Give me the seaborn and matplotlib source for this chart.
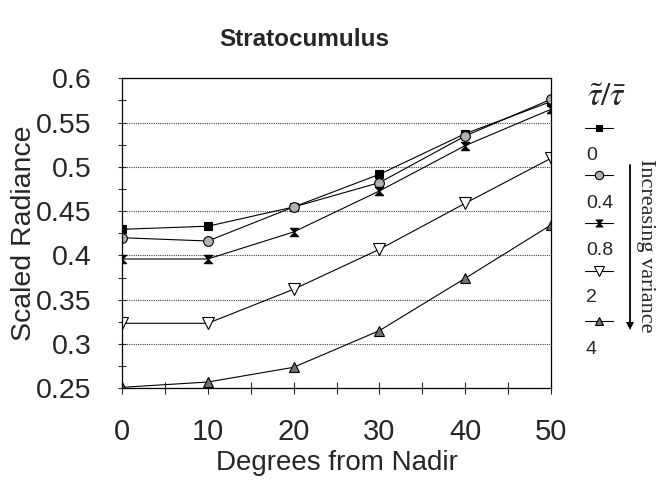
import matplotlib
matplotlib.use("Agg")
import matplotlib.pyplot as plt
from matplotlib.lines import Line2D
from matplotlib.path import Path
import numpy as np
import pandas as pd
import seaborn as sns

# ---- data ----
angles = [0, 10, 20, 30, 40, 50]
labels = ["0", "0.4", "0.8", "2", "4"]
s0 = [0.4295, 0.4330, 0.4547, 0.4916, 0.5375, 0.5737]
s04 = [0.4200, 0.4163, 0.4547, 0.4822, 0.5349, 0.5763]
s08 = [0.3960, 0.3960, 0.4265, 0.4728, 0.5240, 0.5650]
s2 = [0.3234, 0.3234, 0.3618, 0.4069, 0.4589, 0.5097]
s4 = [0.2511, 0.2571, 0.2737, 0.3151, 0.3742, 0.4344]
series = [s0, s04, s08, s2, s4]
yticks = [0.25, 0.3, 0.35, 0.4, 0.45, 0.5, 0.55, 0.6]
ytick_labels = ["0.25", "0.3", "0.35", "0.4", "0.45", "0.5", "0.55", "0.6"]
xticks = [0, 10, 20, 30, 40, 50]

sns.set_style("white")
plt.rcParams['font.family'] = ['Liberation Sans', 'DejaVu Sans']
plt.rcParams['mathtext.fontset'] = 'stix'

hourglass = Path([(-1, 1), (1, 1), (-1, -1), (1, -1), (-1, 1)],
                 [Path.MOVETO, Path.LINETO, Path.LINETO, Path.LINETO, Path.CLOSEPOLY])
styles = [
    dict(marker='s', markerfacecolor='black', markersize=6),
    dict(marker='o', markerfacecolor='#b0b0b0', markersize=7),
    dict(marker=hourglass, markerfacecolor='black', markersize=6),
    dict(marker='v', markerfacecolor='white', markersize=8),
    dict(marker='^', markerfacecolor='#707070', markersize=7),
]

fig = plt.figure(figsize=(6.61, 4.83), dpi=100)
ax = fig.add_axes([122/661, 1-388.3/483, (551-122)/661, (388.3-78.3)/483])

for lab, vals, st in zip(labels, series, styles):
    df = pd.DataFrame({"angle": angles, "rad": vals})
    sns.lineplot(data=df, x="angle", y="rad", ax=ax, color='black', linewidth=0.8,
                 markeredgecolor='black', markeredgewidth=0.8, **st)

ax.set_xlim(0, 50)
ax.set_ylim(0.25, 0.6)
ax.set_xticks(xticks)
ax.set_xticklabels([str(v) for v in xticks], fontsize=21)
ax.set_xticks([5, 15, 25, 35, 45], minor=True)
ax.set_yticks(yticks)
ax.set_yticklabels(ytick_labels, fontsize=20.5)
ax.set_yticks(np.arange(0.275, 0.6, 0.05), minor=True)
ax.tick_params(axis='x', which='both', direction='inout', length=9, width=0.8, bottom=True, pad=17)
ax.tick_params(axis='y', which='both', direction='inout', length=6, width=0.8, left=True, pad=19)
ax.yaxis.grid(True, which='major', linestyle=(0, (1, 1)), color='#444444', linewidth=0.8)
ax.xaxis.grid(False)
for sp in ax.spines.values():
    sp.set_color('black')
    sp.set_linewidth(0.9)
ax.set_xlabel("Degrees from Nadir", fontsize=20, labelpad=3)
ax.set_ylabel("Scaled Radiance", fontsize=20.5)
ax.yaxis.set_label_coords((37 - 122) / 429, 0.5)

fig.text(304/661, 1-40/483, "Stratocumulus", fontsize=17.5, fontweight='bold',
         ha='center', va='center')

# ---- custom legend ----
fig.text(607/661, 1-98/483, r'$\tilde{\tau}/\bar{\tau}$', fontsize=24,
         ha='center', va='center')
marker_y = [128, 175, 223, 271, 321]
label_y = [156, 203, 251, 298, 349]
for st, my, ly, lab in zip(styles, marker_y, label_y, labels):
    st2 = dict(st)
    st2['markersize'] = st['markersize'] - 1
    ln = Line2D([585/661, 599/661, 613/661], [1-my/483]*3, transform=fig.transFigure,
                color='black', linewidth=0.8, markeredgecolor='black',
                markeredgewidth=0.8, markevery=[1], **st2)
    fig.add_artist(ln)
    fig.text(586/661, 1-ly/483, lab, fontsize=14, ha='left', va='center')

fig.add_artist(Line2D([630/661, 630/661], [1-165/483, 1-326/483], transform=fig.transFigure,
                      color='black', linewidth=1.3))
fig.add_artist(Line2D([630/661], [1-326/483], transform=fig.transFigure, marker='v',
                      markersize=6, color='black', markeredgewidth=0))
fig.text(645.5/661, 1-246/483, "Increasing variance", fontsize=16, rotation=-90,
         family=['Liberation Serif', 'DejaVu Serif'], ha='center', va='center')

fig.savefig("out.png", dpi=100)
